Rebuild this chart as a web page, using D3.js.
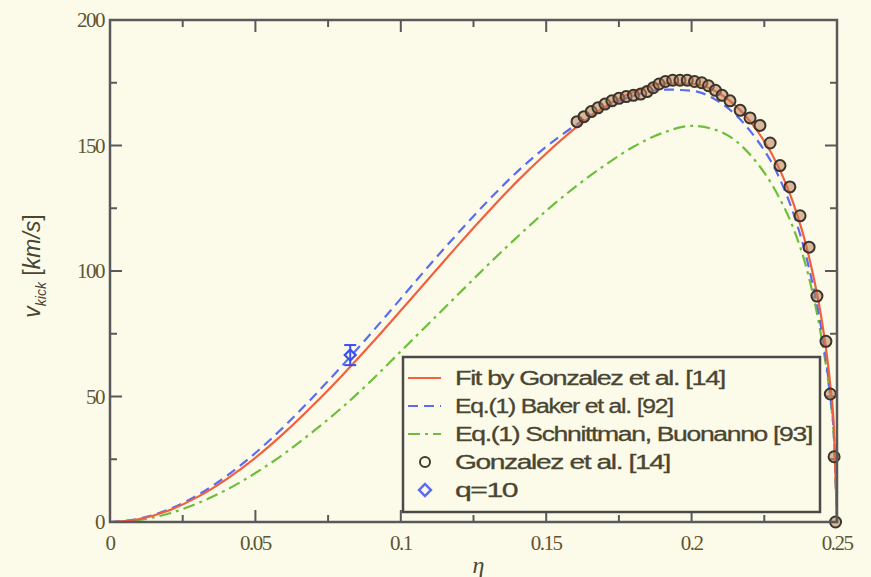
<!DOCTYPE html>
<html>
<head>
<meta charset="utf-8">
<script src="https://cdn.jsdelivr.net/npm/d3@7"></script>
<style>
  body { margin: 0; background: #fcfbea; }
  svg { display: block; }
  .tick-label { font-family: "Liberation Serif", "DejaVu Serif", serif; font-size: 21px; fill: #5e5533; letter-spacing: -1.5px; }
  .legend-text { font-family: "Liberation Sans", Arial, sans-serif; font-size: 20px; fill: #4a4530; letter-spacing: -1px; stroke: #4a4530; stroke-width: 0.3px; }
</style>
</head>
<body>
<svg width="871" height="577"></svg>
<script>
// eta grid used by the three curves
var etaGrid = [0, 0.01, 0.02, 0.03, 0.04, 0.05, 0.06, 0.07, 0.08, 0.09, 0.10, 0.11, 0.12, 0.13, 0.14,
               0.15, 0.16, 0.17, 0.18, 0.19, 0.20, 0.21, 0.22, 0.23, 0.235, 0.24, 0.245, 0.2475, 0.249, 0.25];

// Fit by Gonzalez et al. [14]
var fitVals = [0, 1.2, 4.5, 9.9, 17.0, 25.6, 35.6, 46.7, 58.6, 71.2, 84.3, 97.5, 110.7, 123.5, 135.7,
               146.8, 156.9, 165.3, 171.3, 174.7, 174.6, 170.4, 159.8, 141.2, 126.9, 107.4, 78.6, 56.6, 36.1, 0];
// Eq.(1) Baker et al. [92]
var bakerVals = [0, 1.3, 4.9, 10.6, 18.2, 27.5, 38.2, 50.0, 62.5, 75.5, 89.0, 102.5, 115.5, 128.0, 139.5,
                 149.5, 158.0, 165.0, 169.8, 172.3, 171.8, 167.0, 156.0, 137.5, 123.0, 103.0, 74.0, 52.0, 33.0, 0];
// Eq.(1) Schnittman, Buonanno [93]
var schnittVals = [0, 0.8, 3.3, 7.4, 12.8, 19.5, 27.3, 36.2, 45.8, 56.5, 68.0, 79.5, 91.0, 102.5, 113.5,
                   124.0, 133.5, 142.0, 149.5, 155.0, 157.8, 155.5, 146.5, 129.5, 117.0, 99.0, 71.0, 51.0, 32.0, 0];

// Gonzalez et al. [14] simulation points
var simEta = [0.1606, 0.1630, 0.1655, 0.1678, 0.1702, 0.1726, 0.1750, 0.1775, 0.1800, 0.1825, 0.1847,
              0.1868, 0.1888, 0.1910, 0.1935, 0.1960, 0.1985, 0.2010, 0.2035, 0.2058, 0.2082, 0.2105,
              0.2132, 0.2167, 0.2201, 0.2235, 0.2270, 0.2304, 0.2338, 0.2373, 0.2404, 0.2431, 0.2462,
              0.2477, 0.2490, 0.2495];
var simV = [159.5, 161.5, 163.5, 165.0, 166.5, 167.8, 168.8, 169.5, 170.0, 170.5, 171.5,
            173.0, 174.5, 175.5, 176.0, 176.0, 176.0, 175.5, 175.0, 173.8, 172.0, 170.0,
            167.8, 164.0, 161.0, 158.0, 151.0, 142.0, 133.5, 122.0, 109.5, 90.0, 72.0,
            51.0, 26.0, 0];

// q=10 point
var q10 = { eta: 0.0826, v: 66.5, err: 4 };

var xTicks = [0, 0.05, 0.1, 0.15, 0.2, 0.25];
var xTickLabels = ["0", "0.05", "0.1", "0.15", "0.2", "0.25"];
var yTicks = [0, 50, 100, 150, 200];
var legendLabels = ["Fit by Gonzalez et al. [14]", "Eq.(1) Baker et al.  [92]",
                    "Eq.(1) Schnittman, Buonanno [93]", "Gonzalez et al. [14]", "q=10"];

var margin = { left: 110, right: 34, top: 20, bottom: 55 };
var svg = d3.select("svg"),
    width = +svg.attr("width") - margin.left - margin.right,
    height = +svg.attr("height") - margin.top - margin.bottom;

var x = d3.scaleLinear().domain([0, 0.25]).range([0, width]),
    y = d3.scaleLinear().domain([0, 200]).range([height, 0]);

svg.append("rect").attr("width", 871).attr("height", 577).attr("fill", "#fcfbea");

var g = svg.append("g")
    .attr("transform", "translate(" + margin.left + "," + margin.top + ")");

var axisColor = "#59585a";

// ticks on all four sides, pointing inward
var minorX = d3.range(0, 0.2501, 0.025), minorY = d3.range(0, 200.1, 25);
minorX.forEach(function (t, i) {
    var len = (i % 2 === 0) ? 12 : 7;
    g.append("line").attr("x1", x(t)).attr("x2", x(t)).attr("y1", height).attr("y2", height - len)
        .attr("stroke", axisColor).attr("stroke-width", 2);
    g.append("line").attr("x1", x(t)).attr("x2", x(t)).attr("y1", 0).attr("y2", len)
        .attr("stroke", axisColor).attr("stroke-width", 2);
});
minorY.forEach(function (t, i) {
    var len = (i % 2 === 0) ? 12 : 7;
    g.append("line").attr("y1", y(t)).attr("y2", y(t)).attr("x1", 0).attr("x2", len)
        .attr("stroke", axisColor).attr("stroke-width", 2);
    g.append("line").attr("y1", y(t)).attr("y2", y(t)).attr("x1", width).attr("x2", width - len)
        .attr("stroke", axisColor).attr("stroke-width", 2);
});

// curves
var line = d3.line()
    .x(function (d) { return x(d[0]); })
    .y(function (d) { return y(d[1]); })
    .curve(d3.curveMonotoneX);

function pairs(vals) { return etaGrid.map(function (e, i) { return [e, vals[i]]; }); }

g.append("path").datum(pairs(schnittVals)).attr("d", line)
    .attr("fill", "none").attr("stroke", "#6cbf3a").attr("stroke-width", 2.2)
    .attr("stroke-dasharray", "12,5,3,5");
g.append("path").datum(pairs(bakerVals)).attr("d", line)
    .attr("fill", "none").attr("stroke", "#5b6cf2").attr("stroke-width", 2.2)
    .attr("stroke-dasharray", "10,6");
g.append("path").datum(pairs(fitVals)).attr("d", line)
    .attr("fill", "none").attr("stroke", "#f2603e").attr("stroke-width", 2.2);

// simulation circles
g.selectAll(".sim")
    .data(simEta.map(function (e, i) { return [e, simV[i]]; }))
    .enter().append("circle")
    .attr("class", "sim")
    .attr("cx", function (d) { return x(d[0]); })
    .attr("cy", function (d) { return y(d[1]); })
    .attr("r", 5.5)
    .attr("fill", "#b9805a").attr("fill-opacity", 0.55)
    .attr("stroke", "#3a342b").attr("stroke-width", 2);

// q=10 diamond with error bar
var qx = x(q10.eta), qy = y(q10.v);
g.append("line").attr("x1", qx).attr("x2", qx).attr("y1", y(q10.v + q10.err)).attr("y2", y(q10.v - q10.err))
    .attr("stroke", "#3a4ef0").attr("stroke-width", 2);
[q10.v + q10.err, q10.v - q10.err].forEach(function (v) {
    g.append("line").attr("x1", qx - 6).attr("x2", qx + 6).attr("y1", y(v)).attr("y2", y(v))
        .attr("stroke", "#3a4ef0").attr("stroke-width", 2);
});
g.append("path").attr("d", d3.symbol().type(d3.symbolSquare).size(60)())
    .attr("transform", "translate(" + qx + "," + qy + ") rotate(45)")
    .attr("fill", "none").attr("stroke", "#3a4ef0").attr("stroke-width", 2.2);

// frame
g.append("rect").attr("width", width).attr("height", height)
    .attr("fill", "none").attr("stroke", axisColor).attr("stroke-width", 2.5);

// tick labels
g.selectAll(".xl").data(xTicks).enter().append("text")
    .attr("class", "tick-label")
    .attr("x", function (d) { return x(d); })
    .attr("y", height + 28)
    .attr("text-anchor", "middle")
    .text(function (d, i) { return xTickLabels[i]; });
g.selectAll(".yl").data(yTicks).enter().append("text")
    .attr("class", "tick-label")
    .attr("x", -6)
    .attr("y", function (d) { return y(d) + 7; })
    .attr("text-anchor", "end")
    .text(function (d) { return d; });

// axis titles
g.append("text").attr("x", width / 2 + 5).attr("y", height + 51)
    .attr("text-anchor", "middle")
    .style("font-family", "Liberation Serif, serif").style("font-style", "italic")
    .style("font-size", "24px").attr("fill", "#4a4530").text("η");

var yt = g.append("text")
    .attr("transform", "translate(-70," + (height / 2 - 5) + ") rotate(-90)")
    .attr("text-anchor", "middle")
    .style("font-family", "Liberation Sans, sans-serif")
    .style("font-size", "23px").attr("fill", "#4a4530");
yt.append("tspan").style("font-style", "italic").text("v");
yt.append("tspan").attr("dy", 6).style("font-size", "14px").style("font-style", "italic").text("kick");
yt.append("tspan").attr("dy", -6).text(" [");
yt.append("tspan").style("font-style", "italic").text("km/s");
yt.append("tspan").text("]");

// legend
var lg = svg.append("g").attr("transform", "translate(403,357)");
lg.append("rect").attr("width", 417).attr("height", 155)
    .attr("fill", "#fcfbea").attr("stroke", "#4b4a48").attr("stroke-width", 2.5);
var rowY = function (i) { return 21 + i * 28; };
var textLen = [270, 218, 357, 215, 62];
legendLabels.forEach(function (t, i) {
    lg.append("text").attr("class", "legend-text")
        .attr("x", 52).attr("y", rowY(i) + 7)
        .attr("textLength", textLen[i]).attr("lengthAdjust", "spacingAndGlyphs")
        .text(t);
});
lg.append("line").attr("x1", 5).attr("x2", 38).attr("y1", rowY(0)).attr("y2", rowY(0))
    .attr("stroke", "#f2603e").attr("stroke-width", 2.2);
lg.append("line").attr("x1", 5).attr("x2", 38).attr("y1", rowY(1)).attr("y2", rowY(1))
    .attr("stroke", "#5b6cf2").attr("stroke-width", 2.2).attr("stroke-dasharray", "10,6");
lg.append("line").attr("x1", 5).attr("x2", 38).attr("y1", rowY(2)).attr("y2", rowY(2))
    .attr("stroke", "#6cbf3a").attr("stroke-width", 2.2).attr("stroke-dasharray", "12,5,3,5");
lg.append("circle").attr("cx", 22).attr("cy", rowY(3)).attr("r", 5)
    .attr("fill", "none").attr("stroke", "#3f3a30").attr("stroke-width", 2);
lg.append("path").attr("d", d3.symbol().type(d3.symbolSquare).size(70)())
    .attr("transform", "translate(22," + rowY(4) + ") rotate(45)")
    .attr("fill", "none").attr("stroke", "#5b6cf2").attr("stroke-width", 2.5);
</script>
</body>
</html>
